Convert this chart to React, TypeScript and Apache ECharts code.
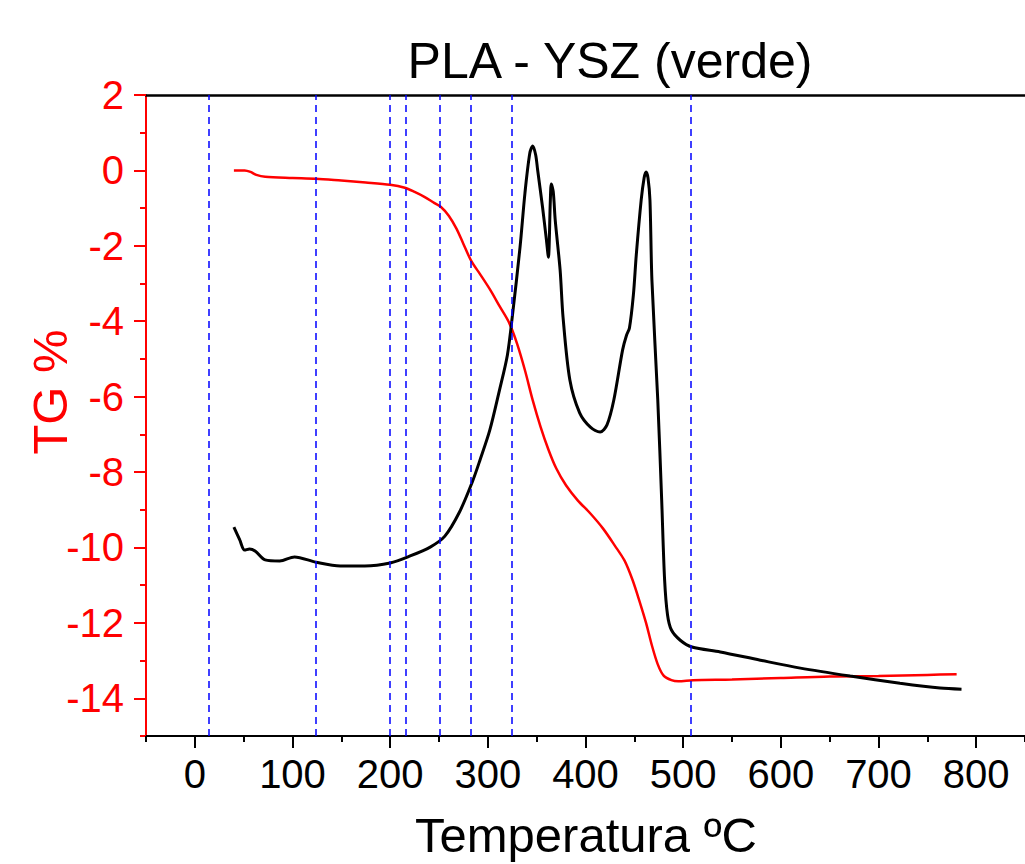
import React, { useEffect, useRef } from "react";
import * as echarts from "echarts";

// Temperature (ºC) / TG (%) pairs
const tgTemp = [40, 51, 57, 63, 72, 100, 124, 150, 175, 200, 215, 225, 235, 245, 252, 260, 268, 275, 283, 292, 302, 312, 322, 330, 338, 346, 354, 362, 370, 380, 392, 405, 418, 430, 440, 448, 455, 462, 468, 474, 480, 488, 495, 510, 550, 600, 650, 700, 750, 780];
const tgValue = [0.0, 0.0, -0.04, -0.12, -0.17, -0.2, -0.22, -0.27, -0.32, -0.38, -0.46, -0.57, -0.7, -0.86, -0.97, -1.2, -1.55, -1.95, -2.4, -2.75, -3.15, -3.6, -4.05, -4.6, -5.3, -6.1, -6.8, -7.4, -7.9, -8.35, -8.75, -9.1, -9.5, -9.95, -10.35, -10.85, -11.4, -12.0, -12.6, -13.1, -13.4, -13.52, -13.55, -13.52, -13.5, -13.46, -13.42, -13.41, -13.38, -13.36];

// Black curve (derivative signal, on a hidden secondary axis, same visual scale)
const dtgTemp = [40, 46, 51, 56, 62, 72, 87, 102, 124, 149, 174, 200, 220, 241, 256, 271, 284, 292, 302, 312, 320, 325, 333, 338, 343, 346, 349, 351, 356, 360, 362, 364, 365, 367, 369, 374, 377, 384, 394, 405, 415, 422, 429, 438, 442, 445, 449, 452, 457, 460, 462, 464, 466, 468, 474, 478, 481, 484, 488, 497, 509, 538, 579, 620, 671, 722, 763, 785];
const dtgValue = [-9.46, -9.8, -10.07, -10.04, -10.1, -10.33, -10.36, -10.25, -10.39, -10.49, -10.49, -10.41, -10.23, -9.99, -9.7, -9.06, -8.27, -7.68, -6.89, -5.82, -4.9, -3.89, -2.03, -0.6, 0.46, 0.65, 0.41, 0.01, -0.97, -1.85, -2.3, -0.79, -0.36, -0.57, -1.32, -2.64, -3.89, -5.56, -6.43, -6.81, -6.94, -6.75, -6.09, -4.76, -4.37, -4.18, -3.31, -2.24, -0.79, -0.2, -0.04, -0.2, -0.79, -2.91, -6.09, -8.74, -10.86, -11.79, -12.19, -12.46, -12.64, -12.77, -12.99, -13.2, -13.41, -13.6, -13.73, -13.76];

// Blue dashed reference temperatures
const refTemps = [14, 124, 200, 216, 251, 283, 324, 508];

// Tick values
const xMajor = [0, 100, 200, 300, 400, 500, 600, 700, 800];
const xMinor = [-50, 50, 150, 250, 350, 450, 550, 650, 750, 850];
const yMajor = [-14, -12, -10, -8, -6, -4, -2, 0, 2];
const yMinor = [-15, -13, -11, -9, -7, -5, -3, -1, 1];

const FONT = "Liberation Sans, Arial, sans-serif";

export default function App() {
  const ref = useRef<HTMLDivElement>(null);
  useEffect(() => {
    if (!ref.current) return;
    const chart = echarts.init(ref.current, null, { renderer: "svg" });
    const tgData = tgTemp.map((t, i) => [t, tgValue[i]]);
    const dtgData = dtgTemp.map((t, i) => [t, dtgValue[i]]);
    chart.setOption({
      animation: false,
      backgroundColor: "#ffffff",
      textStyle: { fontFamily: FONT },
      grid: { left: 146, right: 0, top: 95, bottom: 128, containLabel: false },
      graphic: [
        {
          type: "text",
          x: 610,
          y: 61,
          style: {
            text: "PLA - YSZ (verde)",
            font: `50px ${FONT}`,
            fill: "#000",
            textAlign: "center",
            textVerticalAlign: "middle",
          },
        },
        {
          type: "text",
          x: 50,
          y: 392,
          rotation: Math.PI / 2,
          style: {
            text: "TG %",
            font: `49px ${FONT}`,
            fill: "#ff0000",
            textAlign: "center",
            textVerticalAlign: "middle",
          },
        },
        {
          type: "text",
          x: 586,
          y: 835,
          style: {
            text: "Temperatura ºC",
            font: `49px ${FONT}`,
            fill: "#000",
            textAlign: "center",
            textVerticalAlign: "middle",
          },
        },
      ],
      xAxis: [
        {
          type: "value",
          position: "bottom",
          min: -50,
          max: 850,
          interval: 50,
          axisLine: { show: true, onZero: false, lineStyle: { color: "#000", width: 2 } },
          axisTick: { show: true, inside: false, length: 12, lineStyle: { color: "#000", width: 2 }, customValues: xMajor },
          axisLabel: { show: true, customValues: xMajor, color: "#000", fontSize: 40, fontFamily: FONT, margin: 18 },
          splitLine: { show: false },
        },
        {
          type: "value",
          position: "bottom",
          min: -50,
          max: 850,
          interval: 50,
          axisLine: { show: false, onZero: false },
          axisTick: { show: true, inside: false, length: 6, lineStyle: { color: "#000", width: 2 }, customValues: xMinor },
          axisLabel: { show: false },
          splitLine: { show: false },
        },
        {
          type: "value",
          position: "top",
          min: -50,
          max: 850,
          interval: 50,
          axisLine: { show: true, onZero: false, lineStyle: { color: "#000", width: 2.5 } },
          axisTick: { show: false },
          axisLabel: { show: false },
          splitLine: { show: false },
        },
      ],
      yAxis: [
        {
          type: "value",
          position: "left",
          min: -15,
          max: 2,
          interval: 1,
          axisLine: { show: true, onZero: false, lineStyle: { color: "#ff0000", width: 2 } },
          axisTick: { show: true, inside: false, length: 12, lineStyle: { color: "#ff0000", width: 2 }, customValues: yMajor },
          axisLabel: { show: true, customValues: yMajor, color: "#ff0000", fontSize: 40, fontFamily: FONT, margin: 22 },
          splitLine: { show: false },
        },
        {
          type: "value",
          position: "left",
          min: -15,
          max: 2,
          interval: 1,
          axisLine: { show: false, onZero: false },
          axisTick: { show: true, inside: false, length: 6, lineStyle: { color: "#ff0000", width: 2 }, customValues: yMinor },
          axisLabel: { show: false },
          splitLine: { show: false },
        },
        {
          type: "value",
          min: -15,
          max: 2,
          show: false,
        },
      ],
      series: [
        {
          name: "Referencias",
          type: "line",
          xAxisIndex: 0,
          yAxisIndex: 0,
          data: [],
          silent: true,
          markLine: {
            silent: true,
            symbol: ["none", "none"],
            label: { show: false },
            lineStyle: { color: "#0000ff", type: [7, 5], width: 1.5 },
            data: refTemps.map((t) => ({ xAxis: t })),
          },
        },
        {
          name: "TG",
          type: "line",
          xAxisIndex: 0,
          yAxisIndex: 0,
          data: tgData,
          showSymbol: false,
          smooth: 0.3,
          lineStyle: { color: "#ff0000", width: 2.5 },
        },
        {
          name: "DTG",
          type: "line",
          xAxisIndex: 0,
          yAxisIndex: 2,
          data: dtgData,
          showSymbol: false,
          smooth: 0.3,
          lineStyle: { color: "#000000", width: 3 },
        },
      ],
    });
    return () => chart.dispose();
  }, []);
  return (
    <div
      ref={ref}
      style={{ position: "absolute", left: 0, top: 0, width: 1025, height: 864 }}
    />
  );
}
